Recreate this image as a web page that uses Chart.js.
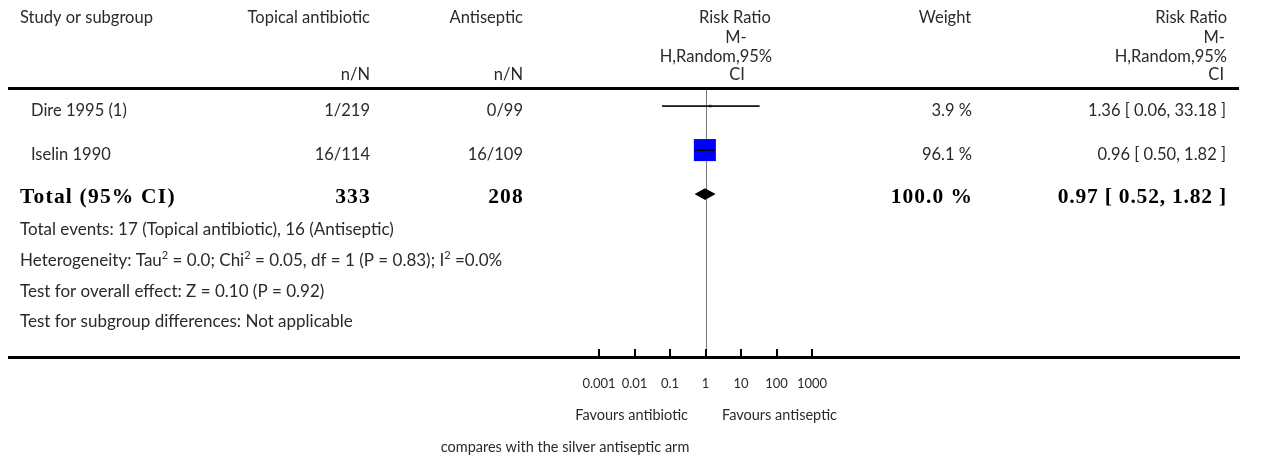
<!DOCTYPE html>
<html>
<head>
<meta charset="utf-8">
<script src="https://cdn.jsdelivr.net/npm/chart.js@4"></script>
<style>
html,body{margin:0;padding:0;background:#fff;}
#wrap{width:1270px;height:457px;position:relative;}
</style>
</head>
<body>
<div id="wrap"><canvas id="c" width="1270" height="457"></canvas></div>
<script>
// ---- data ----
const studies = ["Dire 1995 (1)", "Iselin 1990"];
const antibioticEvents = ["1/219", "16/114"];
const antisepticEvents = ["0/99", "16/109"];
const rr = [1.36, 0.96];
const ciLow = [0.06, 0.50];
const ciHigh = [33.18, 1.82];
const weights = [3.9, 96.1];
const weightLabels = ["3.9 %", "96.1 %"];
const ciLabels = ["1.36 [ 0.06, 33.18 ]", "0.96 [ 0.50, 1.82 ]"];
const total = {label: "Total (95% CI)", nA: "333", nB: "208", rr: 0.97, lo: 0.52, hi: 1.82, weight: "100.0 %", ci: "0.97 [ 0.52, 1.82 ]"};
const footnotes = [
  "Total events: 17 (Topical antibiotic), 16 (Antiseptic)",
  "Heterogeneity: Tau\u00b2 = 0.0; Chi\u00b2 = 0.05, df = 1 (P = 0.83); I\u00b2 =0.0%",
  "Test for overall effect: Z = 0.10 (P = 0.92)",
  "Test for subgroup differences: Not applicable"
];
const tickValues = [0.001, 0.01, 0.1, 1, 10, 100, 1000];
const tickLabels = ["0.001", "0.01", "0.1", "1", "10", "100", "1000"];
const favoursLeft = "Favours antibiotic";
const favoursRight = "Favours antiseptic";
const caption = "compares with the silver antiseptic arm";

const SANS = "Lato, 'Open Sans', sans-serif";
const SERIF = "'Liberation Serif', 'DejaVu Serif', serif";
const TXT = "#2a2a2a";

// ---- datasets ----
const datasets = [];
studies.forEach((s, i) => {
  datasets.push({
    type: 'line', data: [{x: ciLow[i], y: i}, {x: ciHigh[i], y: i}],
    borderColor: '#000', borderWidth: 1.3, pointRadius: 0, fill: false, order: 1
  });
});
// boxes sized by weight
datasets.push({
  type: 'scatter',
  data: studies.map((s, i) => ({x: rr[i], y: i})),
  pointStyle: 'rect',
  pointRadius: weights.map(w => w > 50 ? 15.6 : 2),
  backgroundColor: weights.map(w => w > 50 ? '#0000ff' : '#888'),
  borderWidth: 0, order: 2
});
// CI line redrawn on top of the box (black)
studies.forEach((s, i) => {
  datasets.push({
    type: 'line', data: [{x: ciLow[i], y: i}, {x: ciHigh[i], y: i}],
    borderColor: '#000', borderWidth: 1, pointRadius: 0, fill: false, order: 0
  });
});
// diamond for total
const dh = 0.12;
datasets.push({
  type: 'line',
  data: [{x: total.lo, y: 2}, {x: total.rr, y: 2 - dh}, {x: total.hi, y: 2}, {x: total.rr, y: 2 + dh}, {x: total.lo, y: 2}],
  borderColor: '#000', backgroundColor: '#000', borderWidth: 1, pointRadius: 0,
  fill: 'shape', tension: 0, order: 0
});

function txt(ctx, s, x, y, align, font, color, ls) {
  ctx.font = font; ctx.textAlign = align; ctx.textBaseline = 'middle';
  ctx.letterSpacing = ls || '0px';
  ctx.fillStyle = color || TXT; ctx.fillText(s, x, y);
  ctx.letterSpacing = '0px';
}

function supText(ctx, s, x, y, size) {
  ctx.textAlign = 'left'; ctx.textBaseline = 'middle'; ctx.fillStyle = TXT;
  const chunks = s.split('\u00b2');
  let cx = x;
  chunks.forEach((c, i) => {
    ctx.font = size + "px " + SANS;
    ctx.fillText(c, cx, y);
    cx += ctx.measureText(c).width;
    if (i < chunks.length - 1) {
      ctx.font = Math.round(size * 0.65) + "px " + SANS;
      ctx.fillText("2", cx, y - size * 0.32);
      cx += ctx.measureText("2").width;
    }
  });
}

const decor = {
  id: 'decor',
  beforeDatasetsDraw(chart) {
    const ctx = chart.ctx, xs = chart.scales.x;
    const ca = chart.chartArea;
    ctx.save();
    const x1 = xs.getPixelForValue(1);
    ctx.strokeStyle = '#7a7a7a'; ctx.lineWidth = 1;
    ctx.beginPath(); ctx.moveTo(Math.round(x1) + 0.5, ca.top + 2); ctx.lineTo(Math.round(x1) + 0.5, ca.bottom); ctx.stroke();
    ctx.restore();
  },
  afterDraw(chart) {
    const ctx = chart.ctx, xs = chart.scales.x, ys = chart.scales.y;
    const ca = chart.chartArea;
    ctx.save();
    ctx.fillStyle = '#000';
    ctx.fillRect(8, ca.top - 1, 1231, 3);
    ctx.fillRect(8, ca.bottom - 1, 1232, 3);
    tickValues.forEach(v => {
      const px = Math.round(xs.getPixelForValue(v));
      ctx.fillRect(px - 1, ca.bottom - 8, 2, 8);
    });
    const F = "16.5px " + SANS;
    // header
    txt(ctx, "Study or subgroup", 20, 18, 'left', F);
    txt(ctx, "Topical antibiotic", 370, 18, 'right', F);
    txt(ctx, "n/N", 370, 75, 'right', F);
    txt(ctx, "Antiseptic", 523, 18, 'right', F);
    txt(ctx, "n/N", 523, 75, 'right', F);
    txt(ctx, "Risk Ratio", 735, 18, 'center', F);
    txt(ctx, "M-", 736, 38, 'center', F);
    txt(ctx, "H,Random,95%", 772, 57, 'right', F);
    txt(ctx, "CI", 737, 75, 'center', F);
    txt(ctx, "Weight", 945, 18, 'center', F);
    txt(ctx, "Risk Ratio", 1227, 18, 'right', F);
    txt(ctx, "M-", 1225, 38, 'right', F);
    txt(ctx, "H,Random,95%", 1227, 57, 'right', F);
    txt(ctx, "CI", 1224, 75, 'right', F);
    // study rows
    studies.forEach((s, i) => {
      const y = ys.getPixelForValue(i) + 5;
      txt(ctx, s, 31, y, 'left', F);
      txt(ctx, antibioticEvents[i], 370, y, 'right', F);
      txt(ctx, antisepticEvents[i], 523, y, 'right', F);
      txt(ctx, weightLabels[i], 972, y, 'right', F);
      txt(ctx, ciLabels[i], 1226, y, 'right', F);
    });
    const yt = ys.getPixelForValue(2) + 3;
    const FB = "bold 21.5px " + SERIF;
    txt(ctx, total.label, 20, yt, 'left', FB, '#000', '1.2px');
    txt(ctx, total.nA, 371, yt, 'right', FB, '#000', '1.2px');
    txt(ctx, total.nB, 524, yt, 'right', FB, '#000', '1.2px');
    txt(ctx, total.weight, 973, yt, 'right', FB, '#000', '1px');
    txt(ctx, total.ci, 1227, yt, 'right', FB, '#000', '0.8px');
    // footnotes
    const fy = [230, 261, 292, 322];
    footnotes.forEach((f, i) => supText(ctx, f, 20, fy[i], 17));
    // tick labels
    tickValues.forEach((v, i) => {
      txt(ctx, tickLabels[i], xs.getPixelForValue(v), 384, 'center', "13px " + SANS);
    });
    txt(ctx, favoursLeft, 688, 415, 'right', "14.5px " + SANS);
    txt(ctx, favoursRight, 722, 415, 'left', "14.5px " + SANS);
    txt(ctx, caption, 565, 447, 'center', "14.5px " + SANS);
    ctx.restore();
  }
};

new Chart(document.getElementById('c'), {
  data: {datasets},
  options: {
    responsive: false, animation: false, devicePixelRatio: 1,
    layout: {padding: {left: 599, right: 1270 - 812, top: 88, bottom: 457 - 357}},
    plugins: {legend: {display: false}, tooltip: {enabled: false}},
    scales: {
      x: {type: 'logarithmic', min: 0.001, max: 1000, display: false},
      y: {type: 'linear', reverse: true, min: -0.41, max: 5.70, display: false}
    },
    elements: {line: {tension: 0}}
  },
  plugins: [decor]
});
</script>
</body>
</html>
